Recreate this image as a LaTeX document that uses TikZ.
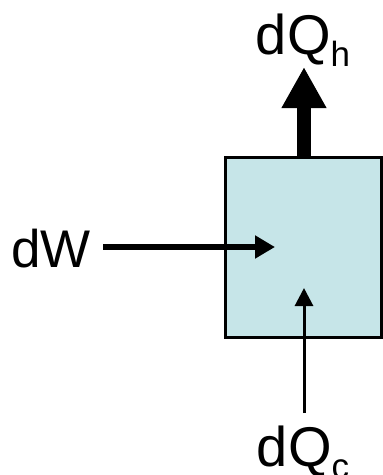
\documentclass[tikz,border=0pt]{standalone}
\usepackage{fontspec}
\setmainfont{Liberation Sans}
\usepackage{tikz}
\usetikzlibrary{arrows.meta, positioning}

\definecolor{boxfill}{HTML}{C6E5E8}
\newcommand{\heatsub}[1]{\raisebox{-12pt}{\fontsize{35}{35}\selectfont #1}}

\begin{document}
\begin{tikzpicture}[
  x=1pt, y=-1pt,
  font=\fontsize{56}{60}\selectfont,
  engine/.style={rectangle, draw, line width=3pt, fill=boxfill, minimum width=156pt, minimum height=180pt},
  label/.style={inner sep=0pt, align=center},
  bigflow/.style={-{Triangle[length=41pt, width=42pt]}, line width=14pt},
  workflow/.style={-{Triangle[length=20pt, width=22pt]}, line width=6.5pt},
  coldflow/.style={-{Triangle[length=18pt, width=18pt]}, line width=3pt}
]
\useasboundingbox (0,0) rectangle (383,475);
\node (box) [engine] at (303,247) {};
\node (qh)  [label, anchor=south] at (303,67) {dQ\heatsub{h}};
\node (w)   [label, anchor=east, font=\fontsize{53}{57}\selectfont] at (91,249) {dW};
\node (qc)  [label, anchor=north] at (303,426) {dQ\heatsub{c}};
\coordinate (wtip) at (275,247);
\coordinate (ctip) at (304,288);

\draw [bigflow]  (box.north -| 304,0) -- (qh.south -| 304,0);
\draw [workflow] (w.east) ++(12,-2) -- (wtip);
\draw [coldflow] (qc.north -| ctip) ++(0,-13) -- (ctip);
\end{tikzpicture}
\end{document}
